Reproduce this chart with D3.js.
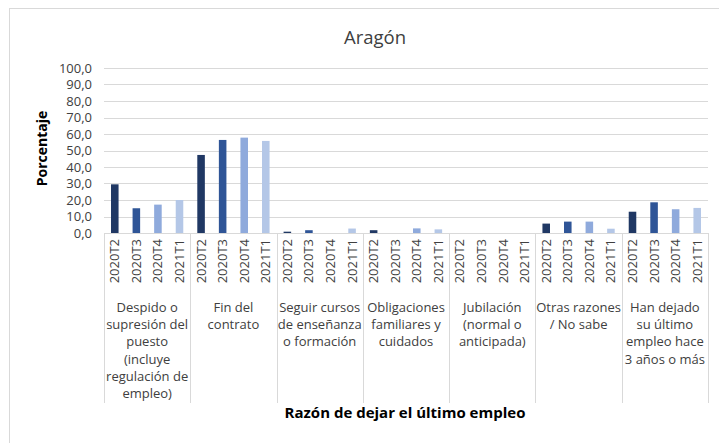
<!DOCTYPE html>
<html>
<head>
  <script src="https://d3js.org/d3.v7.min.js"></script>
  <style>
    body { margin: 0; background: #fff; }
    text { font-family: "Open Sans", "Noto Sans", sans-serif; fill: #404040; }
    .axis text { font-size: 12.5px; }
    .grid line { stroke: #d9d9d9; }
  </style>
</head>
<body>
  <svg class="chart"></svg>
  <script>
    var categories = [
      ['Despido o', 'supresión del', 'puesto', '(incluye', 'regulación de', 'empleo)'],
      ['Fin del', 'contrato'],
      ['Seguir cursos', 'de enseñanza', 'o formación'],
      ['Obligaciones', 'familiares y', 'cuidados'],
      ['Jubilación', '(normal o', 'anticipada)'],
      ['Otras razones', '/ No sabe'],
      ['Han dejado', 'su último', 'empleo hace', '3 años o más']
    ];
    var periods = ['2020T2', '2020T3', '2020T4', '2021T1'];
    var v2020T2 = [29.5, 47.3, 0.8, 1.7, 0, 5.7, 12.9];
    var v2020T3 = [15.0, 56.4, 1.7, 0, 0, 6.9, 18.6];
    var v2020T4 = [17.2, 57.8, 0, 2.8, 0, 6.9, 14.4];
    var v2021T1 = [20.0, 55.8, 2.7, 2.2, 0, 2.6, 15.2];
    var yTicks = [0, 10, 20, 30, 40, 50, 60, 70, 80, 90, 100];
    var colors = ['#203864', '#2f5597', '#8faadc', '#b4c7e7'];

    var series = [v2020T2, v2020T3, v2020T4, v2021T1];
    var W = 719, H = 443;
    var margin = { top: 68, left: 104, right: 11, bottom: 210 };
    var width = W - margin.left - margin.right;
    var height = H - margin.top - margin.bottom;

    var svg = d3.select('.chart').attr('width', W).attr('height', H);

    // chart border
    svg.append('rect')
      .attr('x', 9.5).attr('y', 8.5)
      .attr('width', 720).attr('height', 450)
      .attr('fill', 'none').attr('stroke', '#d9d9d9');

    var chart = svg.append('g')
      .attr('transform', 'translate(' + margin.left + ',' + margin.top + ')');

    var x0 = d3.scaleBand().domain(d3.range(categories.length)).range([0, width]);
    var x1 = d3.scaleBand().domain(periods).range([0, x0.bandwidth()]).paddingInner(0.65).paddingOuter(0.325);
    var y = d3.scaleLinear().domain([0, 100]).range([height, 0]);

    // gridlines
    chart.append('g').attr('class', 'grid')
      .selectAll('line').data(yTicks).enter().append('line')
      .attr('x1', 0).attr('x2', width)
      .attr('y1', function (d) { return Math.round(y(d)) + 0.5; })
      .attr('y2', function (d) { return Math.round(y(d)) + 0.5; });

    // y axis labels
    var yAxis = d3.axisLeft(y).tickValues(yTicks).tickSize(0).tickPadding(12)
      .tickFormat(function (d) { return d3.format('.1f')(d).replace('.', ','); });
    chart.append('g').attr('class', 'axis').call(yAxis)
      .call(function (g) { g.select('.domain').remove(); })
      .selectAll('text').style('font-size', '13px');

    // bars
    var groups = chart.selectAll('.group')
      .data(categories).enter().append('g')
      .attr('class', 'group')
      .attr('transform', function (d, i) { return 'translate(' + x0(i) + ',0)'; });

    groups.selectAll('rect')
      .data(function (d, i) { return periods.map(function (p, j) { return { p: p, v: series[j][i], j: j }; }); })
      .enter().append('rect')
      .attr('x', function (d) { return x1(d.p); })
      .attr('width', x1.bandwidth())
      .attr('y', function (d) { return y(d.v); })
      .attr('height', function (d) { return height - y(d.v); })
      .attr('fill', function (d) { return colors[d.j]; });

    // separators
    var seps = d3.range(categories.length + 1).map(function (i) { return i * x0.bandwidth(); });
    chart.selectAll('.sep').data(seps).enter().append('line')
      .attr('class', 'sep')
      .attr('x1', function (d) { return Math.round(d) + 0.5; })
      .attr('x2', function (d) { return Math.round(d) + 0.5; })
      .attr('y1', height).attr('y2', height + 170)
      .attr('stroke', '#d9d9d9');

    // period labels
    groups.selectAll('.plab')
      .data(periods).enter().append('text')
      .attr('class', 'plab')
      .attr('transform', function (d) { return 'translate(' + (x1(d) + x1.bandwidth() / 2 + 4.5) + ',' + (height + 6) + ') rotate(-90)'; })
      .attr('text-anchor', 'end')
      .style('font-size', '13px')
      .text(function (d) { return d; });

    // category labels
    groups.append('text')
      .attr('text-anchor', 'middle')
      .attr('x', x0.bandwidth() / 2)
      .attr('y', height + 79)
      .style('font-size', '13px')
      .selectAll('tspan').data(function (d) { return d; }).enter().append('tspan')
      .attr('x', x0.bandwidth() / 2)
      .attr('dy', function (d, i) { return i === 0 ? 0 : 17.2; })
      .text(function (d) { return d; });

    // title
    svg.append('text')
      .attr('x', 375).attr('y', 44)
      .attr('text-anchor', 'middle')
      .style('font-size', '18.5px')
      .text('Aragón');

    // axis titles
    svg.append('text')
      .attr('transform', 'translate(47,' + (margin.top + height / 2 - 2) + ') rotate(-90)')
      .attr('text-anchor', 'middle')
      .style('font-size', '14px').style('font-weight', 'bold').style('fill', '#000')
      .text('Porcentaje');

    svg.append('text')
      .attr('x', 405).attr('y', 418)
      .attr('text-anchor', 'middle')
      .style('font-size', '15px').style('font-weight', 'bold').style('fill', '#000')
      .text('Razón de dejar el último empleo');
  </script>
</body>
</html>
